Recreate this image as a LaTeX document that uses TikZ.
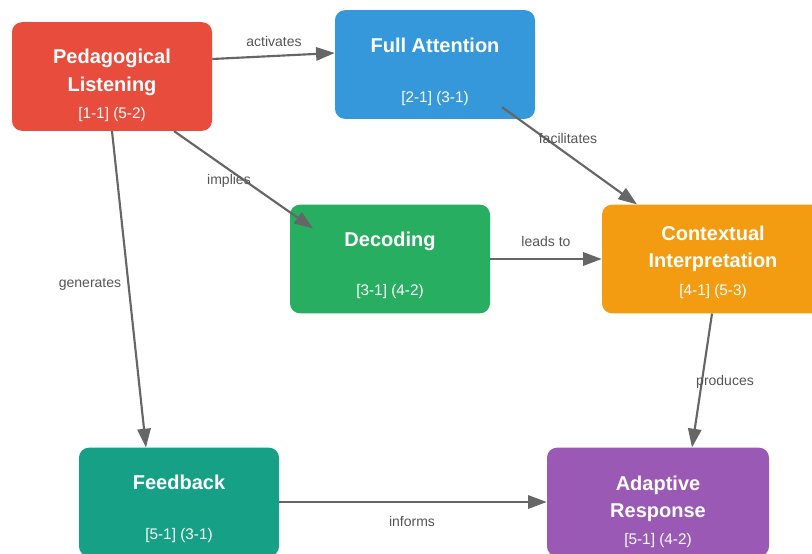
\documentclass[tikz,border=0pt]{standalone}
\usepackage{fontspec}
\setmainfont{Liberation Sans}
\usetikzlibrary{arrows.meta,calc}
\definecolor{cred}{HTML}{E74C3C}
\definecolor{cblue}{HTML}{3498DB}
\definecolor{cgreen}{HTML}{27AE60}
\definecolor{corange}{HTML}{F39C12}
\definecolor{cteal}{HTML}{16A085}
\definecolor{cpurple}{HTML}{9B59B6}
\definecolor{edgegray}{HTML}{666666}
\definecolor{lblgray}{HTML}{555555}
\tikzset{
  box/.style={rectangle, rounded corners=7.5pt, draw=none, inner sep=0pt,
    minimum width=150pt, minimum height=81.5pt},
  wide/.style={minimum width=166.5pt},
  ttl/.style={text=white, font=\fontsize{15}{18}\selectfont\bfseries, anchor=base, inner sep=0pt},
  code/.style={text=white, font=\fontsize{11.5}{14}\selectfont, anchor=base, inner sep=0pt},
  lbl/.style={text=lblgray, font=\fontsize{10.5}{12}\selectfont, inner sep=0pt},
  conn/.style={draw=edgegray, line width=1.6pt, -{Triangle[length=14pt,width=10pt]}}
}
\begin{document}
\begin{tikzpicture}[x=0.75pt,y=-0.75pt]
\path[use as bounding box] (0,0) rectangle (812,553);
\clip (0,0) rectangle (812,553);
\fill[white] (0,0) rectangle (812,553);

% boxes
\node[box, fill=cred] (ped) at (112,76.5) {};
\node[box, fill=cblue] (fa) at (435,64.5) {};
\node[box, fill=cgreen] (dec) at (390,259) {};
\node[box, wide, fill=corange] (ci) at (713,259) {};
\node[box, fill=cteal] (fb) at (179,502) {};
\node[box, wide, fill=cpurple] (ar) at (658,502) {};

% texts
\node[ttl] (ped-t1) at ($(ped.north)+(0,42)$) {Pedagogical};
\node[ttl] (ped-t2) at ($(ped.north)+(0,70)$) {Listening};
\node[code] (ped-c) at ($(ped.north)+(0,97)$) {[1-1] (5-2)};

\node[ttl] (fa-t1) at ($(fa.north)+(0,43)$) {Full Attention};
\node[code] (fa-c) at ($(fa.north)+(0,93)$) {[2-1] (3-1)};

\node[ttl] (dec-t1) at ($(dec.north)+(0,42)$) {Decoding};
\node[code] (dec-c) at ($(dec.north)+(0,91)$) {[3-1] (4-2)};

\node[ttl] (ci-t1) at ($(ci.north)+(0,36)$) {Contextual};
\node[ttl] (ci-t2) at ($(ci.north)+(0,63)$) {Interpretation};
\node[code] (ci-c) at ($(ci.north)+(0,91)$) {[4-1] (5-3)};

\node[ttl] (fb-t1) at ($(fb.north)+(0,42)$) {Feedback};
\node[code] (fb-c) at ($(fb.north)+(0,92)$) {[5-1] (3-1)};

\node[ttl] (ar-t1) at ($(ar.north)+(0,43)$) {Adaptive};
\node[ttl] (ar-t2) at ($(ar.north)+(0,70)$) {Response};
\node[code] (ar-c) at ($(ar.north)+(0,97)$) {[5-1] (4-2)};

% connectors
\draw[conn] ($(ped.east)+(0,-17.5)$) -- ($(fa.west)+(0,-11.5)$);
\draw[conn] ($(fa.south)+(67,-12)$) -- ($(ci.north)+(-76,0)$);
\draw[conn] ($(ped.south)+(62,0)$) -- ($(dec.north)+(-77,24)$);
\draw[conn] (ped.south) -- ($(fb.north)+(-33,0)$);
\draw[conn] (dec.east) -- (ci.west);
\draw[conn] ($(ci.south)+(-1,0)$) -- ($(ar.north)+(34,0)$);
\draw[conn] (fb.east) -- (ar.west);

% labels
\node[lbl] (l-act) at (274,41) {activates};
\node[lbl] (l-fac) at (568,138) {facilitates};
\node[lbl] (l-imp) at (229,181) {implies};
\node[lbl] (l-gen) at (90,284) {generates};
\node[lbl] (l-lea) at (546,241) {leads to};
\node[lbl] (l-pro) at (725,382) {produces};
\node[lbl] (l-inf) at (412,521) {informs};
\end{tikzpicture}
\end{document}
